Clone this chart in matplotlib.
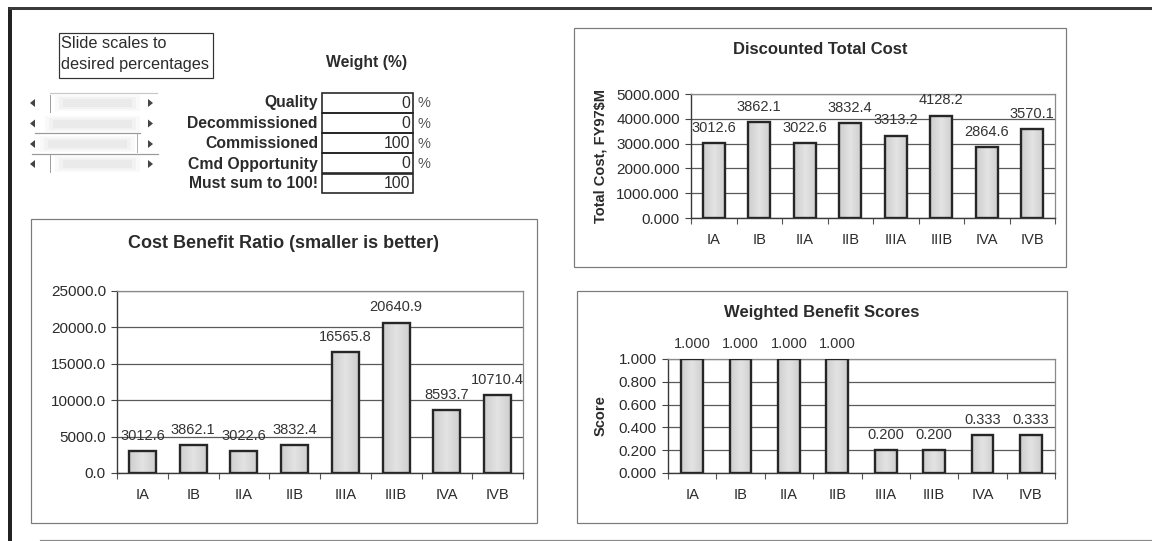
import matplotlib
matplotlib.use("Agg")
import matplotlib.pyplot as plt
from matplotlib.patches import Rectangle, Polygon
from matplotlib.colors import LinearSegmentedColormap
import numpy as np

plt.rcParams['font.family'] = ['Liberation Sans', 'DejaVu Sans']

# ---------------- data ----------------
categories = ["IA", "IB", "IIA", "IIB", "IIIA", "IIIB", "IVA", "IVB"]
discounted_cost = [3012.6, 3862.1, 3022.6, 3832.4, 3313.2, 4128.2, 2864.6, 3570.1]
cost_benefit = [3012.6, 3862.1, 3022.6, 3832.4, 16565.8, 20640.9, 8593.7, 10710.4]
benefit_scores = [1.000, 1.000, 1.000, 1.000, 0.200, 0.200, 0.333, 0.333]

weight_labels = ["Quality", "Decommissioned", "Commissioned", "Cmd Opportunity", "Must sum to 100!"]
weight_values = ["0", "0", "100", "0", "100"]
weight_units = ["%", "%", "%", "%", ""]

W, H = 1152, 541
fig = plt.figure(figsize=(W / 100, H / 100), dpi=100)
fig.patch.set_facecolor('white')

# overlay in pixel coords
ov = fig.add_axes([0, 0, 1, 1], zorder=0)
ov.set_xlim(0, W)
ov.set_ylim(H, 0)
ov.axis('off')

TXT = '#2b2b2b'
PX = 0.72  # points per pixel

# outer frame
ov.plot([9.5, 9.5], [7, 541], color='#222222', lw=4 * PX, solid_capstyle='butt')
ov.plot([8, 1152], [8, 8], color='#3a3a3a', lw=3 * PX, solid_capstyle='butt')
ov.plot([40, 1152], [539.5, 539.5], color='#8a8a8a', lw=1.2 * PX)

# control panel
ov.add_patch(Rectangle((59, 33), 154, 45, fill=False, ec='#333333', lw=1.2 * PX))
ov.text(61, 44, "Slide scales to", fontsize=11.7, color=TXT, va='center', ha='left')
ov.text(61, 65, "desired percentages", fontsize=11.7, color=TXT, va='center', ha='left')
ov.text(367, 62, "Weight (%)", fontsize=11.3, fontweight='bold', color=TXT, ha='center', va='center')

row_y = [103, 123.5, 144, 164, 183.5]
box_top = [93, 113, 133, 153, 174]
box_h = [20, 20, 20, 20, 19]
for lab, val, unit, yc, bt, bh in zip(weight_labels, weight_values, weight_units, row_y, box_top, box_h):
    ov.text(318, yc, lab, fontsize=11.3, fontweight='bold', color=TXT, ha='right', va='center')
    ov.add_patch(Rectangle((322, bt), 91, bh, fill=False, ec='#222222', lw=1.6 * PX))
    ov.text(410, yc, val, fontsize=11.3, color=TXT, ha='right', va='center')
    if unit:
        ov.text(417, yc, unit, fontsize=10.5, color='#555555', ha='left', va='center')

# sliders (scroll bars)
for yc in row_y[:4]:
    ov.add_patch(Polygon([[30, yc], [35, yc - 4], [35, yc + 4]], closed=True, fc='#444444', ec='none'))
    ov.add_patch(Polygon([[153, yc], [148, yc - 4], [148, yc + 4]], closed=True, fc='#444444', ec='none'))
for (x0, x1, yc) in [(55, 140, 103), (45, 140, 123.5), (40, 135, 144), (55, 140, 164)]:
    for k, a in enumerate([0.08, 0.10, 0.12]):
        ov.add_patch(Rectangle((x0 + 4 * k, yc - 8 + 2 * k), (x1 - x0) - 8 * k, 16 - 4 * k,
                               fc='#b8b8b8', ec='none', alpha=a))
ov.plot([50, 157], [93, 93], color='#c8c8c8', lw=1.2 * PX)
ov.plot([50, 50], [95, 112], color='#a0a0a0', lw=1 * PX)
ov.plot([35, 140], [133, 133], color='#9a9a9a', lw=1.2 * PX)
ov.plot([137, 137], [134, 152], color='#b0b0b0', lw=1 * PX)
ov.plot([32, 158], [153.5, 153.5], color='#9a9a9a', lw=1.2 * PX)
ov.plot([50, 50], [155, 172], color='#a0a0a0', lw=1 * PX)

# chart frames
ov.add_patch(Rectangle((31, 219), 506, 304, fill=False, ec='#7a7a7a', lw=1.2 * PX))
ov.add_patch(Rectangle((574, 28), 492, 239, fill=False, ec='#7a7a7a', lw=1.2 * PX))
ov.add_patch(Rectangle((577, 291), 490, 232, fill=False, ec='#7a7a7a', lw=1.2 * PX))

ov.text(284, 244, "Cost Benefit Ratio (smaller is better)", fontsize=13, fontweight='bold',
        color=TXT, ha='center', va='center')
ov.text(820, 49, "Discounted Total Cost", fontsize=12, fontweight='bold',
        color=TXT, ha='center', va='center')
ov.text(822, 313, "Weighted Benefit Scores", fontsize=12, fontweight='bold',
        color=TXT, ha='center', va='center')

bar_cmap = LinearSegmentedColormap.from_list("barg", ["#cecece", "#e3e3e3", "#cecece"])
grad = np.linspace(0, 1, 64).reshape(1, -1)


def make_axes(left, right, top, bottom):
    return fig.add_axes([left / W, 1 - bottom / H, (right - left) / W, (bottom - top) / H], zorder=2)


def bar_chart(ax, values, ymax, step, fmt, width, label_fmt):
    x = np.arange(len(categories))
    ax.set_facecolor('none')
    ax.set_axisbelow(True)
    bars = ax.bar(x, values, width=width, color='none', edgecolor='#262626', linewidth=1.7, zorder=4)
    for b in bars:
        im = ax.imshow(grad, extent=[b.get_x(), b.get_x() + b.get_width(), 0, b.get_height()],
                       aspect='auto', cmap=bar_cmap, zorder=3, interpolation='bilinear')
        im.set_clip_path(b)
    ax.set_xlim(-0.5, len(categories) - 0.5)
    ax.set_ylim(0, ymax)
    ax.set_aspect('auto')
    ticks = np.arange(0, ymax + step / 2, step)
    ax.set_yticks(ticks)
    ax.set_yticklabels([fmt.format(t) for t in ticks], fontsize=11, color=TXT)
    ax.yaxis.grid(True, color='#5a5a5a', lw=0.9)
    ax.set_xticks(x)
    ax.set_xticklabels(categories, fontsize=10.5, color=TXT)
    ax.set_xticks(np.arange(-0.5, len(categories)), minor=True)
    ax.tick_params(axis='x', which='major', length=0, pad=11)
    ax.tick_params(axis='x', which='minor', length=4, width=0.8, color='#555555', direction='out')
    ax.tick_params(axis='y', length=4, width=0.8, color='#444444', pad=4)
    for s in ['top', 'right']:
        ax.spines[s].set_color('#8a8a8a')
        ax.spines[s].set_linewidth(0.9)
    for s in ['left', 'bottom']:
        ax.spines[s].set_color('#3a3a3a')
        ax.spines[s].set_linewidth(1.0)
    for xi, v in zip(x, values):
        ax.annotate(label_fmt.format(v), (xi, v), xytext=(0, 6), textcoords='offset points',
                    ha='center', va='bottom', fontsize=10.5, color='#333333',
                    annotation_clip=False, zorder=5)


ax_cb = make_axes(117, 523, 291, 473)
bar_chart(ax_cb, cost_benefit, 25000, 5000, "{:.1f}", 0.53, "{:.1f}")

ax_dt = make_axes(691, 1055, 94, 218)
bar_chart(ax_dt, discounted_cost, 5000, 1000, "{:.3f}", 0.49, "{:.1f}")
ax_dt.set_ylabel("Total Cost, FY97$M", fontsize=10.5, fontweight='bold', color=TXT, labelpad=6)

ax_wb = make_axes(668, 1055, 359, 473)
bar_chart(ax_wb, benefit_scores, 1.0, 0.2, "{:.3f}", 0.45, "{:.3f}")
ax_wb.set_ylabel("Score", fontsize=10.5, fontweight='bold', color=TXT, labelpad=8)

fig.savefig("out.png", dpi=100, facecolor='white')
